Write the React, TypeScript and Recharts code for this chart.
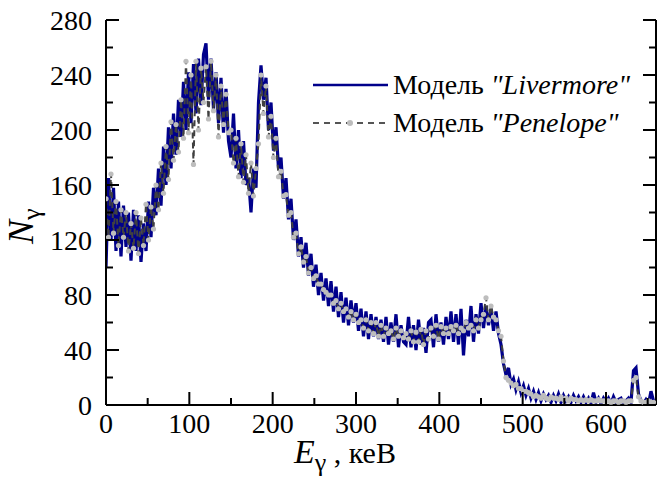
import React from 'react';
import { LineChart, Line, XAxis, YAxis, Legend } from 'recharts';

const STEP_KEV = 3;

// Livermore model counts, read every 3 keV from 0 to 657 keV
const livermore = [
  100, 165, 120, 158, 112, 148, 108, 145, 115, 140,
  105, 142, 112, 138, 104, 132, 112, 148, 122, 158,
  138, 172, 145, 188, 160, 202, 172, 212, 182, 222,
  195, 235, 200, 242, 205, 248, 212, 252, 218, 255,
  263, 222, 252, 215, 242, 205, 238, 198, 230, 192,
  180, 212, 172, 200, 165, 192, 160, 165, 140, 172,
  158, 220, 247, 222, 238, 200, 220, 185, 202, 172,
  180, 150, 165, 135, 150, 120, 135, 108, 122, 100,
  118, 94, 110, 86, 102, 80, 96, 76, 92, 72,
  90, 68, 86, 64, 82, 60, 78, 58, 76, 60,
  74, 54, 70, 50, 68, 48, 66, 50, 64, 48,
  62, 46, 64, 44, 60, 46, 66, 42, 58, 46,
  44, 64, 42, 58, 40, 62, 44, 56, 38, 60,
  62, 42, 66, 46, 60, 44, 64, 48, 68, 46,
  66, 44, 70, 36, 62, 50, 72, 46, 66, 52,
  74, 56, 72, 58, 70, 54, 68, 52, 44, 30,
  22, 27, 15, 19, 11, 17, 9, 14, 7, 12,
  5, 10, 4, 9, 3, 8, 4, 7, 2, 7,
  3, 8, 2, 7, 3, 6, 2, 7, 3, 6,
  2, 6, 2, 5, 1, 9, 2, 5, 1, 5,
  2, 5, 1, 6, 2, 4, 5, 1, 3, 5,
  2, 25, 27, 8, 3, 1, 4, 1, 10, 3,
];

// Penelope model counts, same energy grid
const penelope = [
  150, 122, 168, 125, 148, 116, 142, 122, 140, 112,
  132, 114, 140, 110, 136, 116, 146, 120, 144, 128,
  160, 142, 176, 154, 188, 164, 206, 178, 204, 184,
  222, 194, 250, 198, 240, 175, 250, 200, 245, 220,
  246, 208, 250, 214, 240, 195, 232, 204, 226, 198,
  200, 176, 194, 166, 190, 162, 182, 154, 176, 152,
  172, 190, 240, 212, 232, 195, 210, 180, 194, 166,
  170, 152, 153, 138, 140, 122, 125, 110, 115, 104,
  108, 96, 100, 92, 94, 88, 88, 84, 82, 80,
  80, 74, 76, 70, 74, 68, 70, 64, 68, 62,
  66, 60, 62, 56, 62, 54, 60, 52, 60, 50,
  58, 50, 56, 52, 54, 48, 56, 50, 54, 49,
  52, 48, 54, 46, 53, 46, 55, 44, 54, 48,
  56, 50, 58, 48, 57, 52, 56, 52, 57, 54,
  58, 52, 56, 54, 60, 56, 58, 54, 62, 56,
  62, 66, 78, 62, 72, 64, 62, 54, 50, 32,
  20, 18, 16, 14, 15, 12, 12, 10, 10, 9,
  8, 6, 7, 6, 5, 7, 5, 4, 6, 5,
  5, 4, 6, 4, 5, 3, 5, 4, 4, 3,
  4, 3, 4, 3, 4, 3, 3, 4, 3, 3,
  3, 3, 2, 3, 3, 2, 3, 3, 2, 3,
  3, 18, 20, 6, 3, 2, 2, 3, 2, 2,
];

const xTicks = [0, 50, 100, 150, 200, 250, 300, 350, 400, 450, 500, 550, 600, 650];
const xTickLabels = [0, 100, 200, 300, 400, 500, 600];
const yTicks = [0, 20, 40, 60, 80, 100, 120, 140, 160, 180, 200, 220, 240, 260, 280];
const yTickLabels = [0, 40, 80, 120, 160, 200, 240, 280];

const seriesNames = ['Livermore', 'Penelope'];

const data = livermore.map((v, i) => ({ e: i * STEP_KEV, liv: v, pen: penelope[i] }));

const SERIF =
  '"Liberation Serif", "Times New Roman", Times, "Noto Serif", "DejaVu Serif", serif';
const serifStyle = { fontFamily: SERIF };
const TICK_FONT = 28;
const MAJOR = 13;
const MINOR = 7;

const BottomTick = (p: any) => {
  const v = p.payload.value;
  const major = xTickLabels.includes(v);
  return (
    <g>
      <line x1={p.x} y1={p.y} x2={p.x} y2={p.y - (major ? MAJOR : MINOR)} stroke="#000" strokeWidth={2} />
      {major && (
        <text x={p.x} y={p.y + 28} textAnchor="middle" style={serifStyle} fontSize={TICK_FONT} fill="#000">
          {v}
        </text>
      )}
    </g>
  );
};

const TopTick = (p: any) => {
  const v = p.payload.value;
  const major = xTickLabels.includes(v);
  return <line x1={p.x} y1={p.y} x2={p.x} y2={p.y + (major ? MAJOR : MINOR)} stroke="#000" strokeWidth={2} />;
};

const LeftTick = (p: any) => {
  const v = p.payload.value;
  const major = yTickLabels.includes(v);
  return (
    <g>
      <line x1={p.x} y1={p.y} x2={p.x + (major ? MAJOR : MINOR)} y2={p.y} stroke="#000" strokeWidth={2} />
      {major && (
        <text x={p.x - 14} y={p.y + 10} textAnchor="end" style={serifStyle} fontSize={TICK_FONT} fill="#000">
          {v}
        </text>
      )}
    </g>
  );
};

const RightTick = (p: any) => {
  const v = p.payload.value;
  const major = yTickLabels.includes(v);
  return <line x1={p.x} y1={p.y} x2={p.x - (major ? MAJOR : MINOR)} y2={p.y} stroke="#000" strokeWidth={2} />;
};

const YLabel = () => (
  <text transform="translate(33,244) rotate(-90)" style={serifStyle} fill="#000">
    <tspan fontSize={36} fontStyle="italic">N</tspan>
    <tspan fontSize={26} dy={7}>γ</tspan>
  </text>
);

const XLabel = () => (
  <text x={294} y={463} style={serifStyle} fill="#000">
    <tspan fontSize={34} fontStyle="italic">E</tspan>
    <tspan fontSize={26} dy={8}>γ</tspan>
    <tspan fontSize={30} dy={-8}> , кеВ</tspan>
  </text>
);

const LegendBox = () => (
  <svg width={345} height={80} style={{ overflow: 'visible', display: 'block' }}>
    <line x1={3} y1={20} x2={78} y2={20} stroke="#00008b" strokeWidth={2.5} />
    <text x={83} y={29} style={serifStyle} fontSize={28} fill="#000">
      Модель <tspan fontStyle="italic">"{seriesNames[0]}"</tspan>
    </text>
    <line x1={3} y1={58} x2={78} y2={58} stroke="#555" strokeWidth={2} strokeDasharray="6 5" />
    <circle cx={40} cy={58} r={3} fill="#bdbdbd" />
    <text x={83} y={67} style={serifStyle} fontSize={28} fill="#000">
      Модель <tspan fontStyle="italic">"{seriesNames[1]}"</tspan>
    </text>
  </svg>
);

export default function App() {
  return (
    <div style={{ position: 'fixed', left: 0, top: 0, width: 657, height: 484, background: '#fff', fontFamily: SERIF }}>
      <LineChart width={657} height={484} data={data} margin={{ top: 20, right: 0, bottom: 0, left: 0 }}>
        <XAxis
          xAxisId="b"
          dataKey="e"
          type="number"
          domain={[0, 660]}
          ticks={xTicks}
          interval={0}
          height={79}
          tickSize={0}
          tickMargin={0}
          tickLine={false}
          axisLine={{ stroke: '#000', strokeWidth: 2 }}
          tick={BottomTick}
          allowDataOverflow
          label={{ content: XLabel }}
        />
        <XAxis
          xAxisId="t"
          orientation="top"
          dataKey="e"
          type="number"
          domain={[0, 660]}
          ticks={xTicks}
          interval={0}
          height={0}
          tickSize={0}
          tickMargin={0}
          tickLine={false}
          axisLine={{ stroke: '#000', strokeWidth: 2 }}
          tick={TopTick}
          allowDataOverflow
        />
        <YAxis
          yAxisId="l"
          type="number"
          domain={[0, 280]}
          ticks={yTicks}
          interval={0}
          width={106}
          tickSize={0}
          tickMargin={0}
          tickLine={false}
          axisLine={{ stroke: '#000', strokeWidth: 2 }}
          tick={LeftTick}
          allowDataOverflow
          label={{ content: YLabel }}
        />
        <YAxis
          yAxisId="r"
          orientation="right"
          type="number"
          domain={[0, 280]}
          ticks={yTicks}
          interval={0}
          width={1}
          tickSize={0}
          tickMargin={0}
          tickLine={false}
          axisLine={{ stroke: '#000', strokeWidth: 2 }}
          tick={RightTick}
          allowDataOverflow
        />
        <Legend
          content={LegendBox}
          wrapperStyle={{ left: 310, top: 65, width: 0, height: 0, overflow: 'visible' }}
        />
        <Line
          xAxisId="b"
          yAxisId="l"
          dataKey="liv"
          name="Модель Livermore"
          stroke="#00008b"
          strokeWidth={3.2}
          dot={false}
          isAnimationActive={false}
        />
        <Line
          xAxisId="b"
          yAxisId="l"
          dataKey="pen"
          name="Модель Penelope"
          stroke="#404040"
          strokeWidth={2}
          strokeDasharray="6 4"
          dot={{ r: 2.6, fill: '#bdbdbd', stroke: 'none' }}
          isAnimationActive={false}
        />
      </LineChart>
    </div>
  );
}
